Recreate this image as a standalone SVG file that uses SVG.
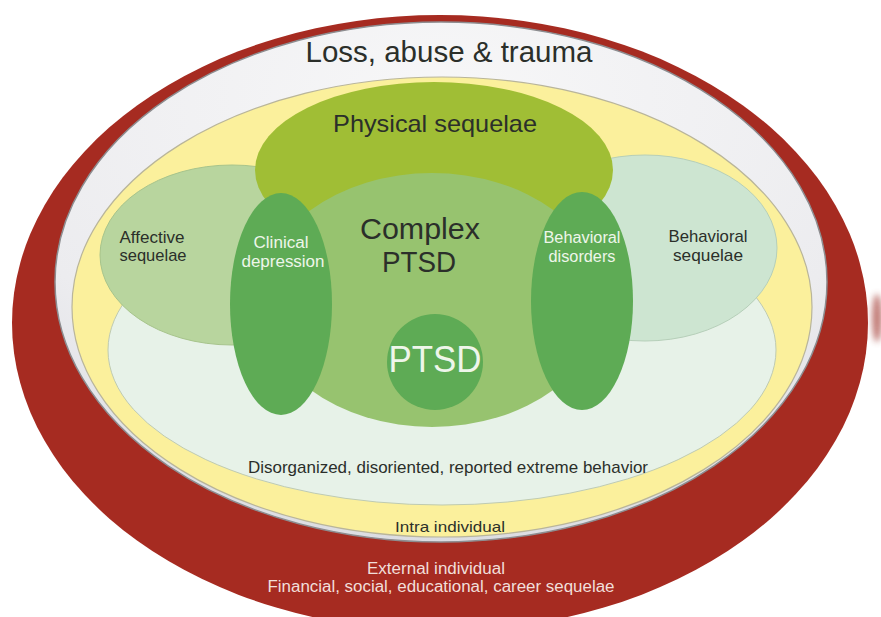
<svg xmlns="http://www.w3.org/2000/svg" width="881" height="617" viewBox="0 0 881 617">
  <defs>
    <radialGradient id="grayFill" cx="0.5" cy="0.15" r="0.85">
      <stop offset="0" stop-color="#f7f7f8"/>
      <stop offset="0.7" stop-color="#ececef"/>
      <stop offset="1" stop-color="#dcdde2"/>
    </radialGradient>
    <filter id="soft" x="-50%" y="-50%" width="200%" height="200%">
      <feGaussianBlur stdDeviation="3"/>
    </filter>
    <style>
      text { font-family: "Liberation Sans", Arial, sans-serif; text-anchor: middle; }
      .dark { fill: #2b2f2a; }
      .white { fill: #eef6ea; }
      .ext { fill: #f1dfda; }
      .ring-red { fill: #a62b21; }
      .ring-gray { fill: url(#grayFill); stroke: #8d8d90; stroke-width: 1.5; }
      .ring-yellow { fill: #fbf09c; stroke: #b9b59a; stroke-width: 1.2; }
      .mint { fill: #e7f2e8; stroke: #bfcbb2; stroke-width: 1; }
      .affective { fill: #b8d59e; stroke: #a7c48c; stroke-width: 1; }
      .behav-seq { fill: #cde5d1; stroke: #b6cfb9; stroke-width: 1; }
      .physical { fill: #a0be35; }
      .complex { fill: #97c36f; }
      .deep { fill: #5eab55; }
    </style>
  </defs>

  <rect width="881" height="617" fill="#ffffff"/>

  <g id="external-individual">
    <ellipse class="ring-red" cx="440" cy="323" rx="428" ry="308"/>
    <ellipse cx="877" cy="318" rx="5" ry="24" fill="#a8443c" opacity="0.7" filter="url(#soft)"/>
    <text class="ext" x="436" y="574" font-size="16" textLength="138" lengthAdjust="spacingAndGlyphs">External individual</text>
    <text class="ext" x="441" y="592" font-size="16" textLength="347" lengthAdjust="spacingAndGlyphs">Financial, social, educational, career sequelae</text>
  </g>

  <g id="loss-abuse-trauma">
    <ellipse class="ring-gray" cx="441" cy="282" rx="386" ry="260"/>
    <text class="dark" x="449" y="62" font-size="30" textLength="287" lengthAdjust="spacingAndGlyphs">Loss, abuse &amp; trauma</text>
  </g>

  <g id="intra-individual">
    <ellipse class="ring-yellow" cx="442" cy="307" rx="370" ry="230"/>
    <text class="dark" x="450" y="532" font-size="15" textLength="110" lengthAdjust="spacingAndGlyphs">Intra individual</text>
  </g>

  <g id="disorganized">
    <ellipse class="mint" cx="442" cy="350" rx="334" ry="155"/>
    <text class="dark" x="448" y="473" font-size="17" textLength="400" lengthAdjust="spacingAndGlyphs">Disorganized, disoriented, reported extreme behavior</text>
  </g>

  <g id="affective-sequelae">
    <ellipse class="affective" cx="232" cy="255" rx="132" ry="90"/>
    <text class="dark" x="152" y="243" font-size="17" textLength="65" lengthAdjust="spacingAndGlyphs">Affective</text>
    <text class="dark" x="153" y="261" font-size="17" textLength="67" lengthAdjust="spacingAndGlyphs">sequelae</text>
  </g>

  <g id="behavioral-sequelae">
    <ellipse class="behav-seq" cx="645" cy="248" rx="132" ry="93"/>
    <text class="dark" x="708" y="242" font-size="17" textLength="79" lengthAdjust="spacingAndGlyphs">Behavioral</text>
    <text class="dark" x="708" y="261" font-size="17" textLength="70" lengthAdjust="spacingAndGlyphs">sequelae</text>
  </g>

  <g id="physical-sequelae">
    <ellipse class="physical" cx="434" cy="170" rx="179" ry="88"/>
    <text class="dark" x="435" y="132" font-size="24" textLength="204" lengthAdjust="spacingAndGlyphs">Physical sequelae</text>
  </g>

  <g id="complex-ptsd">
    <ellipse class="complex" cx="432" cy="300" rx="172" ry="127"/>
    <text class="dark" x="420" y="239" font-size="29" textLength="120" lengthAdjust="spacingAndGlyphs">Complex</text>
    <text class="dark" x="419" y="272" font-size="29" textLength="74" lengthAdjust="spacingAndGlyphs">PTSD</text>
  </g>

  <g id="clinical-depression">
    <ellipse class="deep" cx="281" cy="304" rx="51" ry="111"/>
    <text class="white" x="281" y="248" font-size="16" textLength="55" lengthAdjust="spacingAndGlyphs">Clinical</text>
    <text class="white" x="283" y="267" font-size="16" textLength="83" lengthAdjust="spacingAndGlyphs">depression</text>
  </g>

  <g id="behavioral-disorders">
    <ellipse class="deep" cx="582" cy="301" rx="51" ry="109"/>
    <text class="white" x="582" y="243" font-size="16" textLength="77" lengthAdjust="spacingAndGlyphs">Behavioral</text>
    <text class="white" x="582" y="262" font-size="16" textLength="67" lengthAdjust="spacingAndGlyphs">disorders</text>
  </g>

  <g id="ptsd">
    <circle class="deep" cx="435" cy="362" r="48"/>
    <text class="white" x="435" y="372" font-size="36" textLength="93" lengthAdjust="spacingAndGlyphs">PTSD</text>
  </g>

  <g id="connectors"/>
</svg>
